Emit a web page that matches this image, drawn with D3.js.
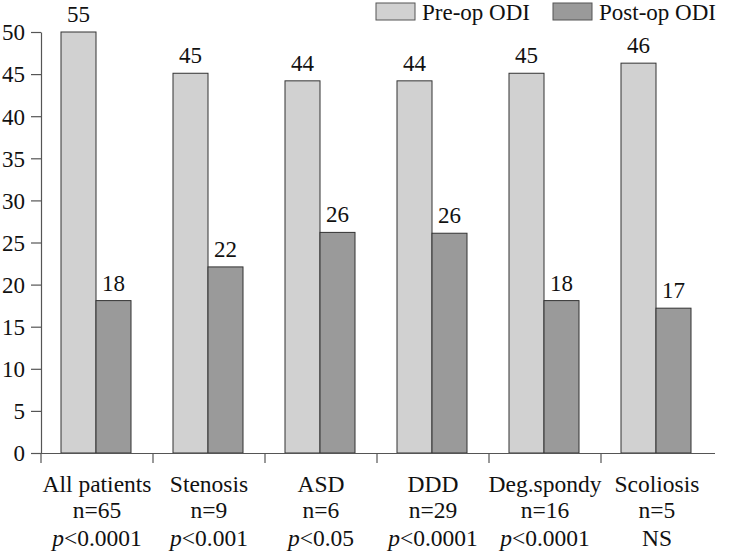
<!DOCTYPE html>
<html><head><meta charset="utf-8">
<script src="https://cdn.jsdelivr.net/npm/d3@7"></script>
<style>body{margin:0;background:#fff}svg{display:block}</style>
</head><body><svg id="c" width="729" height="555"></svg>
<script>
const categories = ["All patients","Stenosis","ASD","DDD","Deg.spondy","Scoliosis"];
const nLabels = ["n=65","n=9","n=6","n=29","n=16","n=5"];
const pLabels = ["<0.0001","<0.001","<0.05","<0.0001","<0.0001","NS"];
const preOp = [55, 45.1, 44.2, 44.2, 45.1, 46.3];
const postOp = [18.1, 22.1, 26.2, 26.1, 18.1, 17.2];
const series = ["Pre-op ODI","Post-op ODI"];
const yTicks = [0,5,10,15,20,25,30,35,40,45,50];

const FONT = '"Liberation Serif"';
const colors = ["#d1d1d1","#9a9a9a"];
const svg = d3.select("#c");
const m = {l:41};
const x = d3.scaleBand().domain(categories).range([m.l, 713]).paddingInner(0).paddingOuter(0);
const y = d3.scaleLinear().domain([0,50]).range([453, 32]).clamp(true);
const xs = d3.scaleBand().domain(series).range([0, 70]);
const off = (x.bandwidth()-70)/2 - 1;

function txt(sel, size){ return sel.style("font-family",FONT).style("font-size",size+"px").attr("fill","#111"); }

const data = categories.map((c,i)=>({c, vals:[preOp[i], postOp[i]]}));
const g = svg.append("g");
const groups = g.selectAll("g.grp").data(data).join("g").attr("transform", d=>`translate(${x(d.c)+off},0)`);
groups.selectAll("rect").data(d=>d.vals.map((v,j)=>({v, s:series[j], j}))).join("rect")
  .attr("x", d=>xs(d.s)).attr("width", xs.bandwidth())
  .attr("y", d=>y(d.v)).attr("height", d=>y(0)-y(d.v))
  .attr("fill", d=>colors[d.j]).attr("stroke","#333").attr("stroke-width",1);
txt(groups.selectAll("text.val").data(d=>d.vals.map((v,j)=>({v, s:series[j], j}))).join("text")
  .attr("class","val").attr("x", d=>xs(d.s)+xs.bandwidth()/2).attr("y", d=>y(d.v)-10)
  .attr("text-anchor","middle"), 23).text(d=>d3.format(".0f")(d.v));

// y axis
const ya = svg.append("g").attr("transform",`translate(${m.l},0)`)
  .call(d3.axisLeft(y).tickValues(yTicks).tickSize(10).tickPadding(6).tickSizeOuter(0));
txt(ya.selectAll("text"), 23).attr("dy","0.34em");
ya.selectAll("line,path").attr("stroke","#555").attr("stroke-width",1.2);

// x axis
const xa = svg.append("g").attr("transform",`translate(0,${y(0)})`)
  .call(d3.axisBottom(x).tickValues([]).tickSizeOuter(0));
xa.select("path").attr("d",`M${m.l},0.5H715`).attr("stroke","#555").attr("stroke-width",1.2);
xa.selectAll(".xt").data(d3.range(6)).join("line").attr("class","xt")
  .attr("x1",i=>x(categories[i])).attr("x2",i=>x(categories[i])).attr("y1",0).attr("y2",10)
  .attr("stroke","#555").attr("stroke-width",1.2);

const lab = svg.append("g");
categories.forEach((c,i)=>{
  const cx = x(c)+x.bandwidth()/2;
  txt(lab.append("text").attr("x",cx).attr("y",492).attr("text-anchor","middle"),23.5).text(c);
  txt(lab.append("text").attr("x",cx).attr("y",518).attr("text-anchor","middle"),23.5).text(nLabels[i]);
  const t = txt(lab.append("text").attr("x",cx).attr("y",546).attr("text-anchor","middle"),23.5);
  if (pLabels[i]==="NS") t.text("NS");
  else { t.append("tspan").style("font-style","italic").text("p"); t.append("tspan").text(pLabels[i]); }
});

// legend
const leg = svg.append("g");
const legX = [376, 553];
series.forEach((s,i)=>{
  leg.append("rect").attr("x",legX[i]).attr("y",3).attr("width",39).attr("height",17)
    .attr("fill",colors[i]).attr("stroke","#555").attr("stroke-width",1);
  txt(leg.append("text").attr("x",legX[i]+46).attr("y",20),23).text(s);
});
</script></body></html>
